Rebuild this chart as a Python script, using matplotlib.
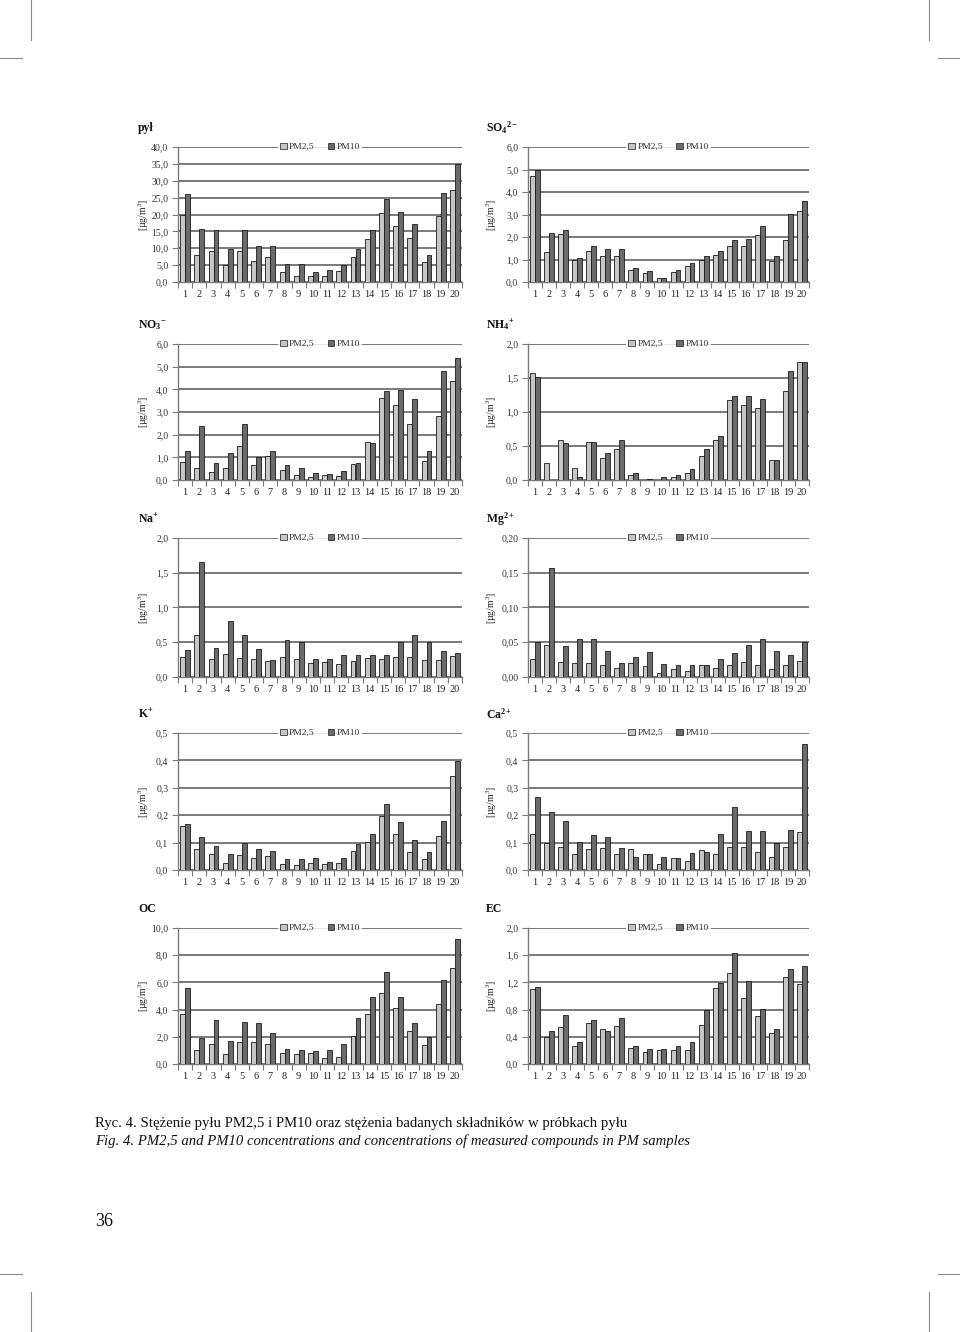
import matplotlib
matplotlib.use('Agg')
import matplotlib.pyplot as plt
from matplotlib.patches import Patch
from matplotlib.ticker import FuncFormatter
import numpy as np

plt.rcParams['font.family'] = ['Liberation Serif', 'DejaVu Serif']
plt.rcParams['mathtext.fontset'] = 'custom'
plt.rcParams['mathtext.rm'] = 'Liberation Serif'
plt.rcParams['mathtext.it'] = 'Liberation Serif:italic'
plt.rcParams['mathtext.bf'] = 'Liberation Serif:bold'

# ---------------- data ----------------
samples = list(range(1, 21))
series_names = ['PM2,5', 'PM10']

pyl_pm25 = [19.9, 8.1, 9.2, 4.9, 9.3, 6.3, 7.5, 2.9, 1.9, 1.9, 1.7, 3.3, 7.3, 12.7, 20.4, 16.5, 13.0, 6.0, 19.5, 27.2]
pyl_pm10 = [26.1, 15.6, 15.3, 9.9, 15.3, 10.8, 10.8, 5.4, 5.4, 2.9, 3.5, 4.9, 9.7, 15.3, 24.7, 20.8, 17.3, 8.0, 26.4, 34.9]

so4_pm25 = [4.72, 1.33, 2.15, 1.00, 1.38, 1.17, 1.15, 0.52, 0.38, 0.20, 0.45, 0.70, 0.98, 1.22, 1.62, 1.58, 2.07, 0.92, 1.85, 3.15]
so4_pm10 = [5.00, 2.18, 2.30, 1.05, 1.62, 1.45, 1.45, 0.62, 0.48, 0.20, 0.55, 0.83, 1.15, 1.38, 1.85, 1.92, 2.48, 1.17, 3.03, 3.60]

no3_pm25 = [0.80, 0.52, 0.35, 0.55, 1.50, 0.67, 1.08, 0.42, 0.22, 0.15, 0.23, 0.18, 0.71, 1.67, 3.60, 3.32, 2.48, 0.83, 2.83, 4.37]
no3_pm10 = [1.30, 2.37, 0.73, 1.20, 2.48, 1.00, 1.27, 0.65, 0.52, 0.32, 0.28, 0.40, 0.73, 1.65, 3.92, 3.97, 3.57, 1.30, 4.82, 5.38]

nh4_pm25 = [1.57, 0.25, 0.59, 0.17, 0.56, 0.33, 0.45, 0.08, 0.00, 0.00, 0.05, 0.10, 0.35, 0.59, 1.18, 1.10, 1.06, 0.30, 1.31, 1.73]
nh4_pm10 = [1.52, 0.00, 0.54, 0.04, 0.56, 0.39, 0.59, 0.10, 0.02, 0.05, 0.08, 0.16, 0.45, 0.65, 1.24, 1.23, 1.19, 0.29, 1.60, 1.74]

na_pm25 = [0.29, 0.60, 0.26, 0.33, 0.28, 0.26, 0.23, 0.29, 0.26, 0.20, 0.22, 0.19, 0.23, 0.28, 0.26, 0.29, 0.29, 0.25, 0.25, 0.30]
na_pm10 = [0.39, 1.65, 0.42, 0.81, 0.60, 0.41, 0.25, 0.53, 0.51, 0.26, 0.26, 0.32, 0.31, 0.31, 0.31, 0.50, 0.60, 0.51, 0.37, 0.34]

mg_pm25 = [0.026, 0.046, 0.021, 0.020, 0.020, 0.017, 0.013, 0.020, 0.016, 0.006, 0.011, 0.009, 0.017, 0.013, 0.017, 0.021, 0.017, 0.012, 0.017, 0.023]
mg_pm10 = [0.050, 0.157, 0.044, 0.054, 0.054, 0.038, 0.020, 0.029, 0.036, 0.019, 0.017, 0.017, 0.017, 0.026, 0.034, 0.046, 0.054, 0.038, 0.031, 0.051]

k_pm25 = [0.162, 0.078, 0.058, 0.027, 0.056, 0.045, 0.051, 0.021, 0.018, 0.025, 0.021, 0.025, 0.069, 0.101, 0.196, 0.133, 0.066, 0.040, 0.125, 0.342]
k_pm10 = [0.168, 0.120, 0.087, 0.060, 0.098, 0.075, 0.068, 0.039, 0.039, 0.045, 0.030, 0.042, 0.095, 0.130, 0.242, 0.174, 0.108, 0.066, 0.178, 0.397]

ca_pm25 = [0.131, 0.098, 0.083, 0.060, 0.078, 0.080, 0.060, 0.075, 0.060, 0.022, 0.042, 0.034, 0.073, 0.060, 0.083, 0.085, 0.065, 0.046, 0.083, 0.138]
ca_pm10 = [0.268, 0.210, 0.180, 0.104, 0.128, 0.121, 0.082, 0.048, 0.057, 0.048, 0.045, 0.063, 0.066, 0.130, 0.230, 0.143, 0.143, 0.100, 0.145, 0.460]

oc_pm25 = [3.70, 1.00, 1.45, 0.72, 1.60, 1.65, 1.50, 0.78, 0.72, 0.78, 0.45, 0.55, 2.08, 3.68, 5.20, 4.15, 2.42, 1.42, 4.40, 7.05]
oc_pm10 = [5.60, 1.88, 3.20, 1.67, 3.10, 3.02, 2.30, 1.10, 1.05, 0.95, 1.05, 1.50, 3.38, 4.95, 6.78, 4.95, 3.00, 1.95, 6.15, 9.20]

ec_pm25 = [1.11, 0.39, 0.54, 0.27, 0.60, 0.51, 0.56, 0.23, 0.18, 0.20, 0.20, 0.21, 0.57, 1.12, 1.34, 0.97, 0.70, 0.46, 1.28, 1.17]
ec_pm10 = [1.13, 0.48, 0.72, 0.33, 0.65, 0.48, 0.68, 0.27, 0.22, 0.22, 0.27, 0.32, 0.80, 1.19, 1.63, 1.22, 0.81, 0.52, 1.39, 1.44]

panel_titles = ['pył', r'SO$_{\mathbf{4}}$$^{\mathbf{2-}}$', r'NO$_{\mathbf{3}}$$^{\mathbf{-}}$', r'NH$_{\mathbf{4}}$$^{\mathbf{+}}$',
                r'Na$^{\mathbf{+}}$', r'Mg$^{\mathbf{2+}}$', r'K$^{\mathbf{+}}$', r'Ca$^{\mathbf{2+}}$', 'OC', 'EC']
panel_pm25 = [pyl_pm25, so4_pm25, no3_pm25, nh4_pm25, na_pm25, mg_pm25, k_pm25, ca_pm25, oc_pm25, ec_pm25]
panel_pm10 = [pyl_pm10, so4_pm10, no3_pm10, nh4_pm10, na_pm10, mg_pm10, k_pm10, ca_pm10, oc_pm10, ec_pm10]
panel_ymax = [40, 6, 6, 2, 2, 0.20, 0.5, 0.5, 10, 2.0]
panel_step = [5, 1, 1, 0.5, 0.5, 0.05, 0.1, 0.1, 2, 0.4]
panel_dec = [1, 1, 1, 1, 1, 2, 1, 1, 1, 1]

caption_pl = 'Ryc. 4. Stężenie pyłu PM2,5 i PM10 oraz stężenia badanych składników w próbkach pyłu'
caption_en = 'Fig. 4. PM2,5 and PM10 concentrations and concentrations of measured compounds in PM samples'
page_number = '36'
ylabel = r'[µg/m$^3$]'

# ---------------- layout ----------------
W, H = 960, 1332
fig = plt.figure(figsize=(W / 100, H / 100), dpi=100)
fig.patch.set_facecolor('white')

rows = [(147, 282), (344, 480), (538, 677), (733, 870), (928, 1064)]
cols = [(178, 462), (528, 809)]
title_x = [138, 486]
ylab_x = [144, 492]

c25 = '#c6c6c6'
c10 = '#6b6b6b'
gridc = '#7a7a7a'

def px_rect(x0, x1, y0, y1):
    return [x0 / W, 1 - y1 / H, (x1 - x0) / W, (y1 - y0) / H]

x = np.array(samples, dtype=float)
bw = 0.35

for i in range(10):
    r, c = divmod(i, 2)
    (y0, y1) = rows[r]
    (x0, x1) = cols[c]
    ax = fig.add_axes(px_rect(x0, x1, y0, y1))
    ax.set_axisbelow(True)
    ax.bar(x - bw / 2, panel_pm25[i], width=bw, color=c25, edgecolor='#1a1a1a', linewidth=0.6, label=series_names[0], zorder=3)
    ax.bar(x + bw / 2, panel_pm10[i], width=bw, color=c10, edgecolor='#1a1a1a', linewidth=0.6, label=series_names[1], zorder=3)
    ymax = panel_ymax[i]
    step = panel_step[i]
    ax.set_ylim(0, ymax)
    ax.set_xlim(0.5, 20.5)
    ticks = np.round(np.arange(0, ymax + step / 2, step), 4)
    ax.set_yticks(ticks)
    d = panel_dec[i]
    ax.yaxis.set_major_formatter(FuncFormatter(lambda v, _, d=d: f'{v:.{d}f}'.replace('.', ',')))
    ax.yaxis.grid(True, color=gridc, linewidth=1.4)
    # x ticks at category boundaries, labels at centres
    ax.set_xticks(np.arange(0.5, 21, 1.0))
    ax.set_xticklabels([])
    ax.set_xticks(x, minor=True)
    ax.set_xticklabels([str(s) for s in samples], minor=True)
    ax.tick_params(axis='x', which='major', length=4, width=0.8, color=gridc, direction='out')
    ax.tick_params(axis='x', which='minor', length=0, labelsize=7.5, pad=6, labelcolor='#222222')
    ax.tick_params(axis='y', length=4, width=0.8, color=gridc, labelsize=7, pad=3, labelcolor='#333333')
    for s in ['top', 'right']:
        ax.spines[s].set_visible(False)
    for s in ['left', 'bottom']:
        ax.spines[s].set_color(gridc)
        ax.spines[s].set_linewidth(1.0)
    handles = [Patch(facecolor=c25, edgecolor='#1a1a1a', linewidth=0.5, label=series_names[0]),
               Patch(facecolor=c10, edgecolor='#1a1a1a', linewidth=0.5, label=series_names[1])]
    leg = ax.legend(handles=handles, loc='center', bbox_to_anchor=(0.5, 1.0), ncol=2, frameon=True,
                    fontsize=6.8, handlelength=0.7, handleheight=0.7, handletextpad=0.25,
                    columnspacing=1.4, borderpad=0.25, borderaxespad=0)
    leg.get_frame().set_facecolor('white')
    leg.get_frame().set_edgecolor('white')
    leg.get_frame().set_linewidth(0)
    leg.set_zorder(5)
    for t in leg.get_texts():
        t.set_color('#333333')
    # title
    fig.text(title_x[c] / W, 1 - (y0 - 19) / H, panel_titles[i], fontsize=8.5, fontweight='bold',
             ha='left', va='center', color='#111111')
    fig.text(ylab_x[c] / W, 1 - ((y0 + y1) / 2) / H, ylabel, fontsize=7, rotation=90,
             ha='center', va='center', color='#222222')

# overlay for crop marks and captions (pixel coordinates)
ov = fig.add_axes([0, 0, 1, 1], facecolor='none')
ov.set_xlim(0, W)
ov.set_ylim(H, 0)
ov.axis('off')
mk = dict(color='#8a8a8a', linewidth=0.8)
ov.plot([31, 31], [0, 40], **mk)
ov.plot([0, 22], [58, 58], **mk)
ov.plot([929, 929], [0, 40], **mk)
ov.plot([938, 960], [58, 58], **mk)
ov.plot([31, 31], [1292, 1332], **mk)
ov.plot([0, 22], [1274, 1274], **mk)
ov.plot([929, 929], [1292, 1332], **mk)
ov.plot([938, 960], [1274, 1274], **mk)

t1 = ov.text(95, 1123, caption_pl, fontsize=11, ha='left', va='center', color='#111111')
t2 = ov.text(95, 1141, caption_en, fontsize=11, ha='left', va='center', style='italic', color='#111111')
t3 = ov.text(95, 1221, page_number, fontsize=13, ha='left', va='center', color='#111111')

# fit caption widths to target widths
fig.canvas.draw()
rend = fig.canvas.get_renderer()
for t, target in [(t1, 531), (t2, 593)]:
    w = t.get_window_extent(rend).width
    t.set_fontsize(t.get_fontsize() * target / w)

fig.savefig('out.png', dpi=100, facecolor='white')
